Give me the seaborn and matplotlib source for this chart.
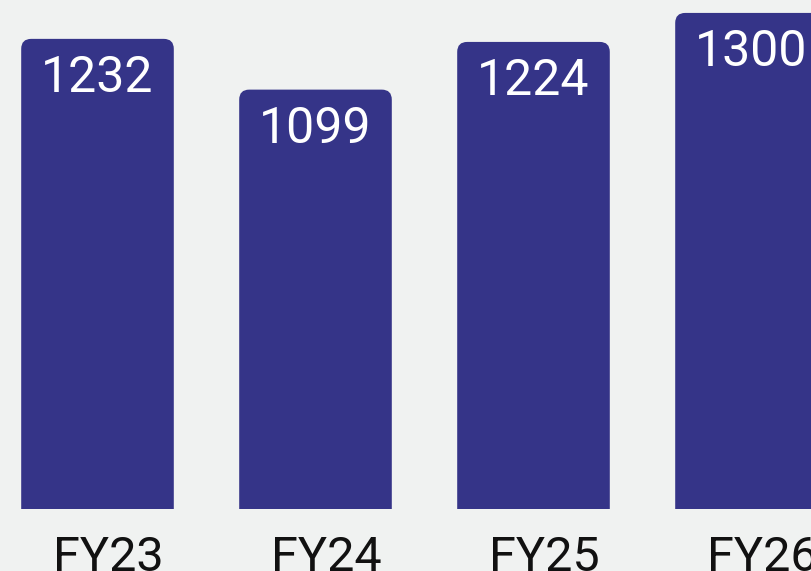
import matplotlib
matplotlib.use("Agg")
import matplotlib.pyplot as plt
import matplotlib.transforms as mtransforms
from matplotlib.patches import FancyBboxPatch
import seaborn as sns
import pandas as pd

categories = ["FY23", "FY24", "FY25", "FY26"]
values = [1232, 1099, 1224, 1300]

BG = "#f0f2f1"
BAR = "#353488"

sns.set_theme(style="white")
plt.rcParams["font.family"] = ["Roboto", "DejaVu Sans"]

W, H = 811, 571
fig = plt.figure(figsize=(W / 100, H / 100), dpi=100, facecolor=BG)
ax = fig.add_axes([0, 62 / H, 1, 509 / H])
ax.set_facecolor(BG)

df = pd.DataFrame({"cat": categories, "val": values})
sns.barplot(data=df, x="cat", y="val", color=BAR, width=0.7, ax=ax,
            saturation=1, errorbar=None)

px_x = 218.0      # pixels per category unit
px_y = 0.3816     # pixels per value unit
x0 = -97.5 / px_x
ax.set_xlim(x0, x0 + W / px_x)
ax.set_ylim(0, 509 / px_y)

# rounded top corners
r = 10 / px_x
aspect = (1 / px_y) / (1 / px_x)
for p in list(ax.patches):
    x, w, h = p.get_x(), p.get_width(), p.get_height()
    p.remove()
    ext = 3 * r * aspect
    fb = FancyBboxPatch((x, -ext), w, h + ext,
                        boxstyle=f"round,pad=0,rounding_size={r}",
                        mutation_aspect=aspect, fc=BAR, ec="none",
                        clip_on=True, zorder=2)
    ax.add_patch(fb)

# value labels
for i, v in enumerate(values):
    tr = ax.transData + mtransforms.ScaledTranslation(0, -53 / 100, fig.dpi_scale_trans)
    ax.text(i, v, str(v), transform=tr, ha="center", va="baseline",
            color="white", fontsize=36, zorder=3)

# category labels
blend = mtransforms.blended_transform_factory(ax.transData, ax.transAxes)
for i, c in enumerate(categories):
    tr = blend + mtransforms.ScaledTranslation(11 / 100, -62 / 100, fig.dpi_scale_trans)
    ax.text(i, 0, c, transform=tr, ha="center", va="baseline",
            color="#111111", fontsize=35, clip_on=False)

ax.set_xticks([])
ax.set_yticks([])
ax.set_xlabel("")
ax.set_ylabel("")
for s in ax.spines.values():
    s.set_visible(False)

fig.savefig("out.png", dpi=100, facecolor=BG)
